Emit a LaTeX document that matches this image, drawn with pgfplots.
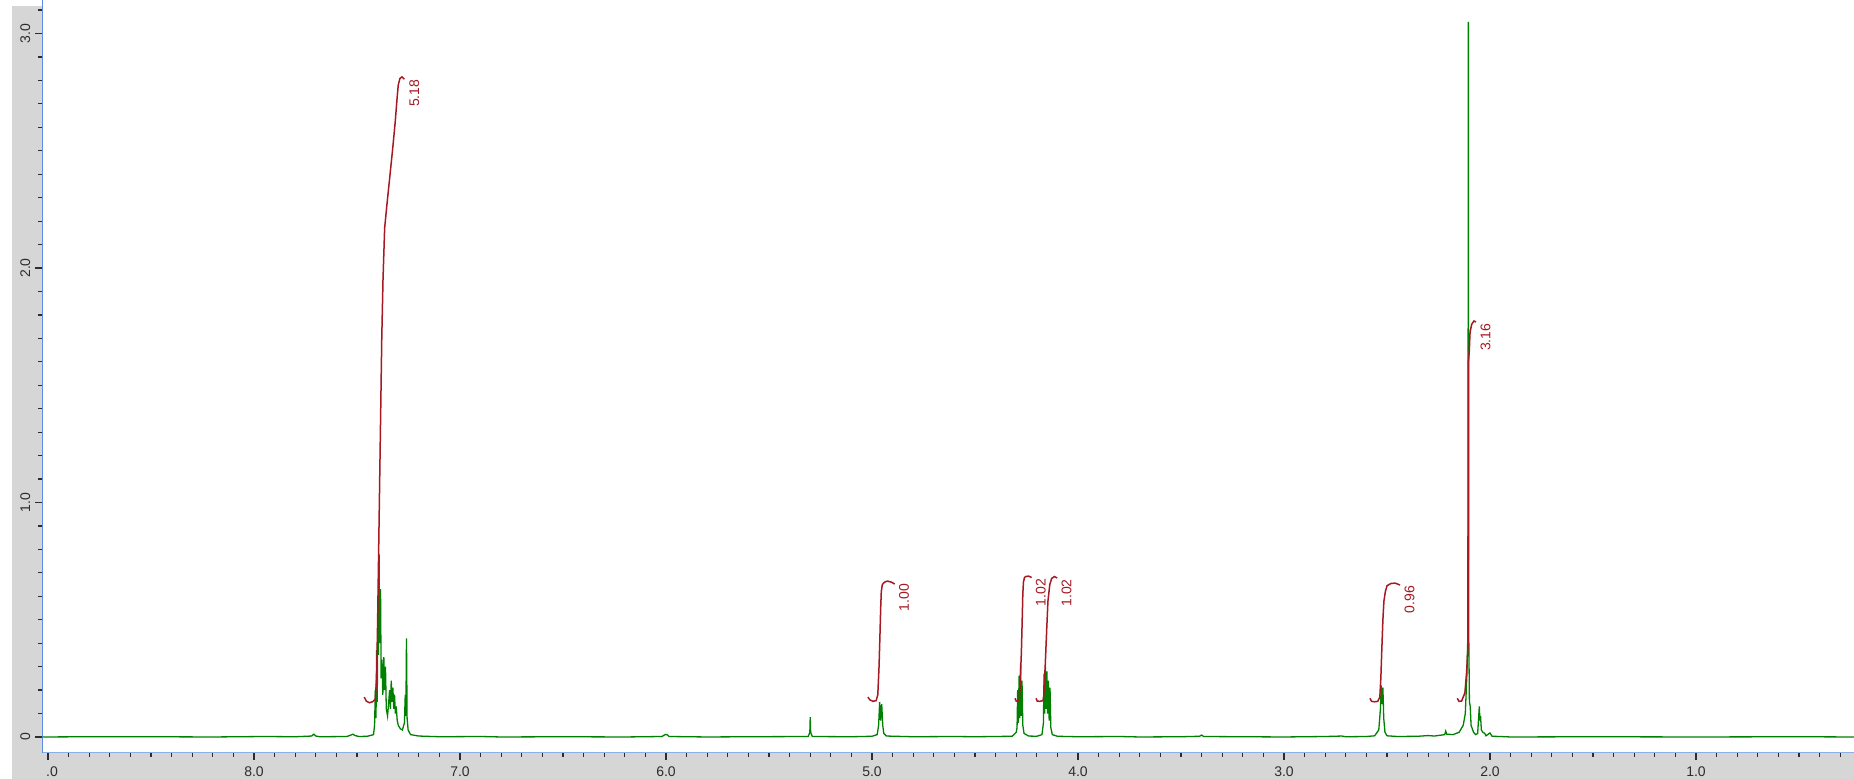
\documentclass[border=0pt]{standalone}
\usepackage{fontspec}
\setmainfont{Liberation Sans}
\usepackage{pgfplots}
\usepackage{pgfplotstable}
\pgfplotsset{compat=1.18}
\definecolor{specgreen}{RGB}{0,128,0}
\definecolor{intred}{RGB}{165,25,35}
\definecolor{graybg}{RGB}{214,214,214}
\definecolor{yblue}{RGB}{95,140,230}
\definecolor{xblue}{RGB}{140,175,230}
\definecolor{tickgray}{RGB}{45,45,45}

\pgfplotstableread{
ppm int
9.026 0.000
8.80 0.001
8.50 0.001
8.20 0.000
7.95 0.002
7.80 0.001
7.72 0.004
7.71 0.012
7.70 0.004
7.68 0.001
7.55 0.002
7.53 0.008
7.52 0.012
7.51 0.006
7.49 0.002
7.45 0.003
7.420 0.010
7.415 0.050
7.411 0.200
7.408 0.080
7.405 0.370
7.402 0.150
7.399 0.530
7.396 0.350
7.393 0.780
7.390 0.400
7.386 0.630
7.383 0.250
7.379 0.330
7.375 0.180
7.370 0.340
7.366 0.200
7.362 0.300
7.358 0.120
7.352 0.090
7.347 0.140
7.342 0.200
7.338 0.120
7.334 0.240
7.330 0.150
7.326 0.210
7.322 0.120
7.318 0.180
7.314 0.100
7.310 0.130
7.305 0.070
7.300 0.050
7.290 0.035
7.280 0.030
7.270 0.060
7.266 0.180
7.263 0.090
7.260 0.420
7.257 0.080
7.252 0.030
7.240 0.010
7.200 0.004
7.100 0.001
6.900 0.002
6.800 0.000
6.500 0.001
6.200 0.000
6.020 0.002
6.005 0.010
5.995 0.010
5.985 0.002
5.800 0.000
5.600 0.001
5.310 0.002
5.302 0.020
5.300 0.085
5.298 0.020
5.290 0.002
5.100 0.001
5.000 0.003
4.975 0.010
4.968 0.050
4.963 0.150
4.958 0.070
4.953 0.140
4.948 0.050
4.943 0.015
4.930 0.004
4.800 0.001
4.600 0.002
4.500 0.001
4.320 0.003
4.300 0.020
4.296 0.040
4.293 0.200
4.290 0.060
4.286 0.260
4.283 0.080
4.279 0.310
4.276 0.090
4.272 0.240
4.268 0.050
4.262 0.015
4.240 0.004
4.200 0.003
4.175 0.010
4.168 0.060
4.165 0.270
4.162 0.100
4.158 0.300
4.155 0.120
4.151 0.280
4.148 0.100
4.144 0.240
4.140 0.070
4.136 0.210
4.132 0.040
4.125 0.010
4.100 0.003
4.000 0.001
3.800 0.002
3.700 0.000
3.500 0.001
3.410 0.003
3.400 0.008
3.390 0.002
3.200 0.001
3.000 0.000
2.800 0.002
2.720 0.004
2.700 0.001
2.600 0.002
2.560 0.005
2.540 0.030
2.532 0.120
2.528 0.220
2.524 0.140
2.520 0.210
2.516 0.080
2.510 0.020
2.500 0.005
2.450 0.002
2.350 0.003
2.300 0.006
2.270 0.004
2.220 0.010
2.215 0.025
2.210 0.012
2.180 0.010
2.150 0.020
2.130 0.050
2.120 0.100
2.112 0.270
2.108 0.420
2.106 1.880
2.105 3.050
2.103 0.420
2.100 0.150
2.096 0.130
2.092 0.050
2.080 0.020
2.070 0.010
2.060 0.015
2.052 0.130
2.049 0.070
2.046 0.090
2.042 0.030
2.035 0.020
2.025 0.015
2.020 0.005
2.000 0.017
1.990 0.003
1.950 0.002
1.900 0.000
1.500 0.001
1.000 0.000
0.500 0.001
0.233 0.000
}\spectrum

\pgfplotstableread{
ppm int
7.465 0.170
7.455 0.153
7.440 0.146
7.425 0.150
7.412 0.160
7.405 0.250
7.400 0.500
7.395 0.800
7.390 1.100
7.385 1.400
7.380 1.700
7.374 1.950
7.366 2.170
7.355 2.270
7.342 2.380
7.328 2.500
7.315 2.620
7.306 2.720
7.300 2.780
7.292 2.808
7.282 2.815
7.270 2.805
}\intA

\pgfplotstableread{
ppm int
5.020 0.170
5.010 0.158
4.995 0.152
4.980 0.155
4.972 0.180
4.966 0.300
4.962 0.420
4.958 0.550
4.955 0.620
4.950 0.650
4.940 0.660
4.925 0.665
4.905 0.660
4.890 0.652
}\intB

\pgfplotstableread{
ppm int
4.306 0.165
4.300 0.153
4.292 0.152
4.285 0.160
4.280 0.250
4.275 0.360
4.271 0.500
4.268 0.610
4.265 0.660
4.260 0.680
4.254 0.684
4.240 0.686
4.225 0.680
}\intC

\pgfplotstableread{
ppm int
4.204 0.165
4.198 0.153
4.185 0.152
4.170 0.155
4.166 0.180
4.159 0.310
4.152 0.460
4.146 0.580
4.137 0.650
4.128 0.676
4.115 0.684
4.101 0.678
}\intD

\pgfplotstableread{
ppm int
2.583 0.165
2.575 0.152
2.560 0.150
2.545 0.152
2.535 0.170
2.530 0.250
2.525 0.380
2.520 0.500
2.515 0.580
2.508 0.620
2.500 0.645
2.480 0.655
2.460 0.656
2.437 0.648
}\intE

\pgfplotstableread{
ppm int
2.159 0.165
2.151 0.152
2.138 0.153
2.122 0.188
2.114 0.273
2.106 0.400
2.105 1.600
2.101 1.640
2.097 1.724
2.089 1.760
2.078 1.774
2.068 1.770
}\intF

\begin{document}
\begin{tikzpicture}
\useasboundingbox (-21.35pt,-13.15pt) rectangle (905.65pt,376.35pt);
\fill[graybg] (-15.5pt,-13.15pt) rectangle (0pt,373.35pt);
\fill[graybg] (-15.5pt,-13.15pt) rectangle (905.65pt,0pt);
\begin{axis}[
  at={(0pt,0pt)}, anchor=south west,
  scale only axis, width=905.65pt, height=376.35pt,
  xmin=-9.026, xmax=-0.233, ymin=-0.067, ymax=3.143,
  axis x line*=bottom, axis y line*=left,
  axis line style={-},
  x axis line style={draw=xblue, line width=0.75pt},
  y axis line style={draw=yblue, line width=0.75pt},
  xtick pos=bottom, ytick pos=left,
  tick align=outside,
  xtick={-9,-8,-7,-6,-5,-4,-3,-2,-1},
  xticklabels={9.0,8.0,7.0,6.0,5.0,4.0,3.0,2.0,1.0},
  minor xtick={-9.0,-8.9,...,-0.25},
  ytick={0,1,2,3},
  yticklabels={0,1.0,2.0,3.0},
  minor ytick={0,0.1,...,3.05},
  major tick length=3.6pt,
  minor tick length=2.1pt,
  tick style={draw=tickgray, line width=0.6pt},
  tick label style={font=\fontsize{7}{8.4}\selectfont, text=tickgray},
  xticklabel style={anchor=north, inner sep=0pt, yshift=-3.3pt},
  yticklabel style={xshift=-2.4pt, rotate=90, anchor=south, inner sep=0pt},
  clip=true,
]
\addplot[specgreen, line width=0.65pt] table[x expr=-\thisrowno{0}, y index=1] {\spectrum};
\addplot[intred, line width=0.75pt] table[x expr=-\thisrowno{0}, y index=1] {\intA};
\addplot[intred, line width=0.75pt] table[x expr=-\thisrowno{0}, y index=1] {\intB};
\addplot[intred, line width=0.75pt] table[x expr=-\thisrowno{0}, y index=1] {\intC};
\addplot[intred, line width=0.75pt] table[x expr=-\thisrowno{0}, y index=1] {\intD};
\addplot[intred, line width=0.75pt] table[x expr=-\thisrowno{0}, y index=1] {\intE};
\addplot[intred, line width=0.75pt] table[x expr=-\thisrowno{0}, y index=1] {\intF};
\begin{scope}[every node/.style={rotate=90, anchor=north east, inner sep=0pt, text=intred, font=\fontsize{7}{8.4}\selectfont}]
\node at (axis cs:-7.248,2.805) {5.18};
\node at (axis cs:-4.870,0.655) {1.00};
\node at (axis cs:-4.207,0.676) {1.02};
\node at (axis cs:-4.082,0.674) {1.02};
\node at (axis cs:-2.417,0.646) {0.96};
\node at (axis cs:-2.048,1.764) {3.16};
\end{scope}
\end{axis}
\fill[graybg] (-15.5pt,-13.15pt) rectangle (0pt,-0.4pt);
\fill[graybg] (0pt,-13.15pt) rectangle (1.8pt,-3.9pt);
\end{tikzpicture}
\end{document}
